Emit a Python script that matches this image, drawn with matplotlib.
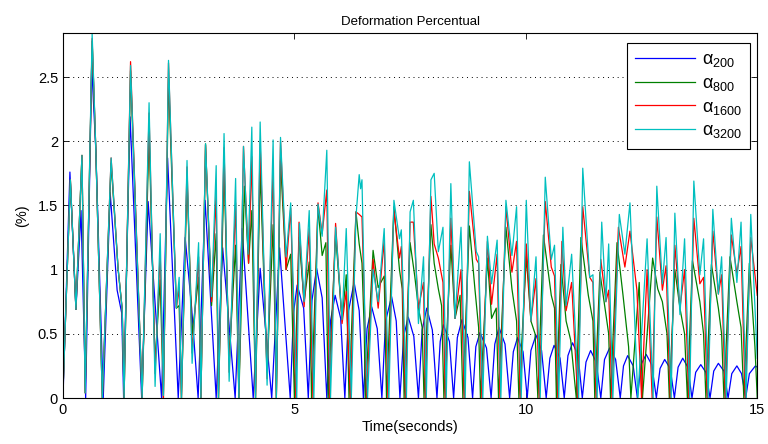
import matplotlib
matplotlib.use("Agg")
import matplotlib.pyplot as plt

plt.rcParams["font.family"] = ["Liberation Sans", "DejaVu Sans"]
plt.rcParams["mathtext.fontset"] = "custom"
plt.rcParams["mathtext.rm"] = "Liberation Sans"

# (time, value) vertices, one list per alpha
blue = [(0.0, 0.0), (0.15, 1.76), (0.28, 0.69), (0.39, 1.46), (0.49, 0.0), (0.62, 2.59), (0.71, 1.93),
        (0.87, 0.0), (1.02, 1.60), (1.17, 0.84), (1.27, 0.66), (1.31, 0.0), (1.45, 2.19), (1.70, 0.0),
        (1.84, 1.53), (2.13, 0.0), (2.26, 1.87), (2.49, 0.0), (2.64, 1.25), (2.78, 0.70), (2.92, 0.0),
        (3.07, 1.54), (3.31, 0.0), (3.45, 1.17), (3.72, 0.0), (3.87, 1.32), (4.11, 0.0), (4.26, 1.01),
        (4.51, 0.0), (4.68, 1.17), (4.91, 0.0), (4.98, 0.66), (5.06, 0.88), (5.20, 0.70), (5.30, 0.0),
        (5.38, 0.76), (5.48, 1.01), (5.60, 0.78), (5.70, 0.0), (5.78, 0.60), (5.88, 0.80), (6.00, 0.62),
        (6.09, 0.0), (6.17, 0.68), (6.29, 0.90), (6.40, 0.68), (6.49, 0.0), (6.57, 0.54), (6.67, 0.71),
        (6.79, 0.54), (6.89, 0.0), (6.97, 0.60), (7.10, 0.79), (7.20, 0.60), (7.28, 0.0), (7.36, 0.48),
        (7.46, 0.63), (7.58, 0.48), (7.68, 0.0), (7.76, 0.53), (7.86, 0.70), (7.98, 0.53), (8.08, 0.0),
        (8.15, 0.44), (8.22, 0.57), (8.35, 0.44), (8.44, 0.0), (8.52, 0.47), (8.62, 0.61), (8.75, 0.47),
        (8.85, 0.0), (8.92, 0.40), (9.01, 0.51), (9.15, 0.39), (9.25, 0.0), (9.33, 0.42), (9.42, 0.55),
        (9.55, 0.42), (9.65, 0.0), (9.73, 0.36), (9.82, 0.47), (9.94, 0.36), (10.03, 0.0), (10.11, 0.37),
        (10.22, 0.49), (10.34, 0.37), (10.44, 0.0), (10.52, 0.31), (10.61, 0.41), (10.74, 0.31),
        (10.83, 0.0), (10.91, 0.33), (11.01, 0.43), (11.13, 0.33), (11.22, 0.0), (11.30, 0.28),
        (11.40, 0.37), (11.52, 0.28), (11.62, 0.0), (11.70, 0.30), (11.81, 0.39), (11.94, 0.30),
        (12.04, 0.0), (12.11, 0.25), (12.20, 0.33), (12.32, 0.25), (12.41, 0.0), (12.49, 0.26),
        (12.60, 0.34), (12.72, 0.26), (12.82, 0.0), (12.90, 0.23), (13.00, 0.30), (13.12, 0.23),
        (13.21, 0.0), (13.29, 0.24), (13.39, 0.31), (13.50, 0.24), (13.59, 0.0), (13.67, 0.20),
        (13.78, 0.26), (13.89, 0.20), (13.98, 0.0), (14.06, 0.21), (14.16, 0.27), (14.28, 0.21),
        (14.37, 0.0), (14.45, 0.19), (14.56, 0.25), (14.66, 0.19), (14.75, 0.0), (14.83, 0.19),
        (14.96, 0.25), (15.0, 0.24)]

green = [(0.0, 0.05), (0.16, 1.70), (0.28, 0.69), (0.41, 1.89), (0.48, 0.04), (0.63, 2.78), (0.71, 1.93),
         (0.85, 0.0), (1.04, 1.83), (1.19, 1.01), (1.28, 0.69), (1.32, 0.0), (1.46, 2.55), (1.71, 0.0),
         (1.86, 2.06), (1.99, 0.27), (2.10, 0.92), (2.17, 0.0), (2.28, 2.49), (2.45, 0.70), (2.51, 0.72),
         (2.56, 0.0), (2.68, 1.71), (2.79, 0.49), (2.93, 0.94), (2.98, 0.0), (3.08, 1.98), (3.21, 0.72),
         (3.31, 1.28), (3.36, 0.0), (3.48, 1.79), (3.59, 0.30), (3.73, 1.19), (3.80, 0.0), (3.92, 1.65),
         (4.01, 1.05), (4.08, 1.46), (4.16, 0.0), (4.26, 1.78), (4.41, 0.20), (4.54, 1.35), (4.61, 0.0),
         (4.70, 1.85), (4.82, 1.00), (4.92, 1.12), (5.00, 0.0), (5.10, 1.25), (5.21, 0.75), (5.32, 1.06),
         (5.37, 0.0), (5.51, 1.49), (5.60, 1.11), (5.68, 1.21), (5.73, 0.0), (5.89, 1.27), (6.03, 0.61),
         (6.12, 0.96), (6.18, 0.0), (6.33, 1.45), (6.40, 1.20), (6.46, 1.05), (6.51, 0.52), (6.53, 0.0),
         (6.70, 1.15), (6.81, 0.86), (6.94, 0.95), (6.99, 0.0), (7.15, 1.49), (7.27, 1.00), (7.33, 0.85),
         (7.37, 0.0), (7.50, 1.21), (7.60, 0.95), (7.68, 0.70), (7.76, 0.55), (7.80, 0.0), (7.95, 1.35),
         (8.02, 1.05), (8.11, 0.85), (8.18, 0.72), (8.23, 0.0), (8.38, 1.19), (8.47, 0.62), (8.58, 0.80),
         (8.64, 0.0), (8.78, 1.34), (8.90, 0.85), (8.98, 0.55), (9.02, 0.0), (9.17, 1.09), (9.26, 0.62),
         (9.36, 0.70), (9.41, 0.0), (9.57, 1.33), (9.70, 0.85), (9.80, 0.60), (9.85, 0.0), (10.01, 1.10),
         (10.11, 0.60), (10.20, 0.50), (10.26, 0.0), (10.38, 1.27), (10.55, 0.80), (10.62, 0.70),
         (10.66, 0.0), (10.76, 1.04), (10.87, 0.60), (10.97, 0.45), (11.09, 0.0), (11.19, 1.25),
         (11.35, 0.80), (11.45, 0.60), (11.49, 0.0), (11.60, 0.98), (11.73, 0.65), (11.79, 0.50),
         (11.83, 0.0), (11.97, 1.21), (12.10, 0.80), (12.22, 0.40), (12.27, 0.0), (12.45, 0.90),
         (12.52, 0.0), (12.74, 1.09), (12.85, 0.85), (12.95, 0.75), (13.05, 0.50), (13.10, 0.0),
         (13.22, 1.00), (13.33, 0.70), (13.43, 0.50), (13.49, 0.0), (13.60, 1.07), (13.76, 0.75),
         (13.84, 0.50), (13.89, 0.0), (14.01, 1.04), (14.16, 0.70), (14.23, 0.50), (14.28, 0.0),
         (14.41, 1.10), (14.56, 0.75), (14.65, 0.55), (14.71, 0.0), (14.83, 1.05), (14.95, 0.40),
         (15.0, 0.0)]

red = [(0.0, 0.05), (0.16, 1.70), (0.28, 0.69), (0.41, 1.89), (0.48, 0.04), (0.63, 2.80), (0.71, 1.93),
       (0.85, 0.0), (1.04, 1.87), (1.19, 1.01), (1.28, 0.69), (1.32, 0.0), (1.46, 2.62), (1.71, 0.0),
       (1.86, 2.22), (1.99, 0.19), (2.10, 1.14), (2.17, 0.0), (2.28, 2.61), (2.45, 0.70), (2.51, 0.86),
       (2.56, 0.0), (2.68, 1.80), (2.79, 0.35), (2.93, 1.10), (2.98, 0.0), (3.08, 1.97), (3.21, 0.75),
       (3.31, 1.60), (3.36, 0.0), (3.48, 1.95), (3.59, 0.20), (3.73, 1.52), (3.80, 0.0), (3.90, 1.96),
       (4.01, 1.05), (4.08, 1.88), (4.16, 0.0), (4.26, 1.99), (4.41, 0.15), (4.54, 1.79), (4.61, 0.0),
       (4.70, 2.00), (4.82, 1.00), (4.92, 1.48), (5.03, 0.0), (5.10, 1.37), (5.21, 0.71), (5.32, 1.32),
       (5.40, 0.0), (5.51, 1.52), (5.60, 1.28), (5.70, 1.62), (5.76, 0.0), (5.89, 1.36), (6.03, 0.58),
       (6.12, 0.83), (6.21, 0.0), (6.33, 1.45), (6.40, 1.43), (6.46, 1.41), (6.53, 0.50), (6.56, 0.0),
       (6.70, 1.08), (6.81, 0.70), (6.94, 1.23), (7.02, 0.0), (7.15, 1.46), (7.27, 1.09), (7.31, 1.18),
       (7.40, 0.0), (7.50, 1.37), (7.57, 1.37), (7.68, 0.70), (7.79, 0.90), (7.83, 0.0), (7.95, 1.57),
       (8.02, 1.20), (8.11, 1.09), (8.21, 0.90), (8.26, 0.0), (8.38, 1.40), (8.47, 0.62), (8.60, 1.00),
       (8.67, 0.0), (8.78, 1.61), (8.93, 1.08), (8.98, 1.05), (9.05, 0.0), (9.17, 1.22), (9.26, 0.73),
       (9.38, 1.12), (9.44, 0.0), (9.57, 1.49), (9.70, 0.98), (9.80, 1.22), (9.88, 0.0), (10.01, 1.20),
       (10.11, 0.60), (10.22, 0.93), (10.29, 0.0), (10.42, 1.53), (10.55, 1.02), (10.62, 0.95),
       (10.69, 0.0), (10.78, 1.22), (10.87, 0.68), (10.99, 0.90), (11.12, 0.0), (11.23, 1.49),
       (11.38, 0.94), (11.45, 0.90), (11.52, 0.0), (11.62, 1.08), (11.73, 0.75), (11.79, 0.84),
       (11.86, 0.0), (12.00, 1.33), (12.14, 1.02), (12.25, 1.30), (12.40, 0.84), (12.50, 0.0),
       (12.62, 1.00), (12.73, 0.0), (12.83, 1.41), (12.95, 0.84), (13.03, 1.03), (13.12, 0.0),
       (13.22, 1.19), (13.33, 0.70), (13.43, 1.00), (13.52, 0.0), (13.63, 1.40), (13.76, 0.89),
       (13.84, 0.94), (13.92, 0.0), (14.04, 1.30), (14.16, 0.81), (14.23, 0.96), (14.31, 0.0),
       (14.44, 1.27), (14.56, 0.97), (14.65, 1.18), (14.74, 0.0), (14.86, 1.25), (15.0, 0.80)]

cyan = [(0.0, 0.05), (0.16, 1.70), (0.28, 0.69), (0.41, 1.89), (0.48, 0.04), (0.63, 2.84), (0.71, 1.93),
        (0.85, 0.0), (1.04, 1.87), (1.19, 1.01), (1.28, 0.69), (1.32, 0.0), (1.46, 2.59), (1.71, 0.0),
        (1.86, 2.30), (1.99, 0.09), (2.10, 1.28), (2.17, 0.02), (2.28, 2.63), (2.45, 0.70), (2.51, 0.94),
        (2.56, 0.0), (2.68, 1.85), (2.79, 0.27), (2.93, 1.21), (2.98, 0.0), (3.08, 1.98), (3.21, 0.79),
        (3.31, 1.81), (3.36, 0.0), (3.48, 2.06), (3.59, 0.13), (3.73, 1.71), (3.80, 0.0), (3.90, 1.96),
        (4.00, 1.12), (4.08, 2.11), (4.16, 0.0), (4.26, 2.15), (4.41, 0.10), (4.54, 2.01), (4.61, 0.0),
        (4.70, 2.03), (4.82, 1.10), (4.92, 1.52), (5.05, 0.0), (5.11, 1.36), (5.21, 0.75), (5.32, 1.46),
        (5.42, 0.0), (5.51, 1.51), (5.60, 1.26), (5.70, 1.93), (5.78, 0.0), (5.89, 1.33), (6.03, 0.61),
        (6.12, 1.32), (6.23, 0.0), (6.33, 1.41), (6.40, 1.74), (6.43, 1.63), (6.46, 1.70), (6.53, 0.50),
        (6.58, 0.0), (6.70, 1.00), (6.81, 0.75), (6.94, 1.32), (7.04, 0.0), (7.15, 1.54), (7.27, 1.24),
        (7.31, 1.31), (7.42, 0.0), (7.50, 1.45), (7.57, 1.54), (7.68, 0.58), (7.79, 1.10), (7.85, 0.0),
        (7.95, 1.70), (8.02, 1.75), (8.11, 1.14), (8.21, 1.33), (8.28, 0.0), (8.38, 1.67), (8.47, 0.62),
        (8.60, 1.33), (8.69, 0.0), (8.78, 1.84), (8.93, 1.14), (8.98, 1.10), (9.07, 0.0), (9.17, 1.26),
        (9.26, 0.89), (9.38, 1.23), (9.46, 0.0), (9.57, 1.54), (9.70, 1.11), (9.80, 1.49), (9.90, 0.0),
        (10.01, 1.54), (10.11, 0.60), (10.22, 1.10), (10.31, 0.0), (10.42, 1.72), (10.55, 1.08),
        (10.62, 1.19), (10.71, 0.0), (10.80, 1.33), (10.87, 0.72), (10.99, 1.12), (11.14, 0.0),
        (11.23, 1.79), (11.38, 0.94), (11.45, 0.96), (11.54, 0.0), (11.64, 1.37), (11.73, 0.75),
        (11.79, 1.20), (11.88, 0.0), (12.02, 1.43), (12.14, 1.12), (12.25, 1.52), (12.42, 0.0),
        (12.62, 1.24), (12.75, 0.0), (12.83, 1.65), (12.95, 0.89), (13.03, 1.25), (13.14, 0.0),
        (13.22, 1.44), (13.33, 0.65), (13.43, 1.24), (13.54, 0.0), (13.63, 1.69), (13.76, 0.96),
        (13.84, 1.24), (13.94, 0.0), (14.04, 1.47), (14.16, 0.81), (14.23, 1.10), (14.33, 0.0),
        (14.44, 1.40), (14.56, 0.90), (14.65, 1.37), (14.76, 0.0), (14.86, 1.43), (15.0, 0.31)]

series = [("200", blue, "#0000ff"), ("800", green, "#008000"),
          ("1600", red, "#ff0000"), ("3200", cyan, "#00bfbf")]

fig = plt.figure(figsize=(7.68, 4.44), dpi=100)
ax = fig.add_axes([0.082, 0.1036, 0.904, 0.822])

for name, pts, col in series:
    t, v = zip(*pts)
    ax.plot(t, v, color=col, lw=0.9, solid_joinstyle="round", label="α$_{\\mathregular{%s}}$" % name)

ax.set_xlim(0, 15)
ax.set_ylim(0, 2.843)
ax.set_xticks([0, 5, 10, 15])
ax.set_yticks([0, 0.5, 1, 1.5, 2, 2.5])
ax.set_yticklabels(["0", "0.5", "1", "1.5", "2", "2.5"])
ax.tick_params(direction="in", top=True, right=True, labelsize=10.5, length=4, width=0.6)
ax.yaxis.grid(True, linestyle=(0, (1, 4)), color="black", lw=0.7)
for s in ax.spines.values():
    s.set_linewidth(0.8)

ax.set_title("Deformation Percentual", fontsize=9.5, pad=6)
ax.set_xlabel("Time(seconds)", fontsize=10.5, labelpad=2)
ax.set_ylabel("(%)", fontsize=10.5, labelpad=6)

leg = ax.legend(loc="upper right", fontsize=13, fancybox=False, framealpha=1,
                edgecolor="black", handlelength=3.3, handletextpad=0.4, borderpad=0.45,
                labelspacing=0.32, borderaxespad=0, bbox_to_anchor=(0.99, 0.9726))
leg.get_frame().set_linewidth(0.8)

fig.savefig("out.png", dpi=100)
